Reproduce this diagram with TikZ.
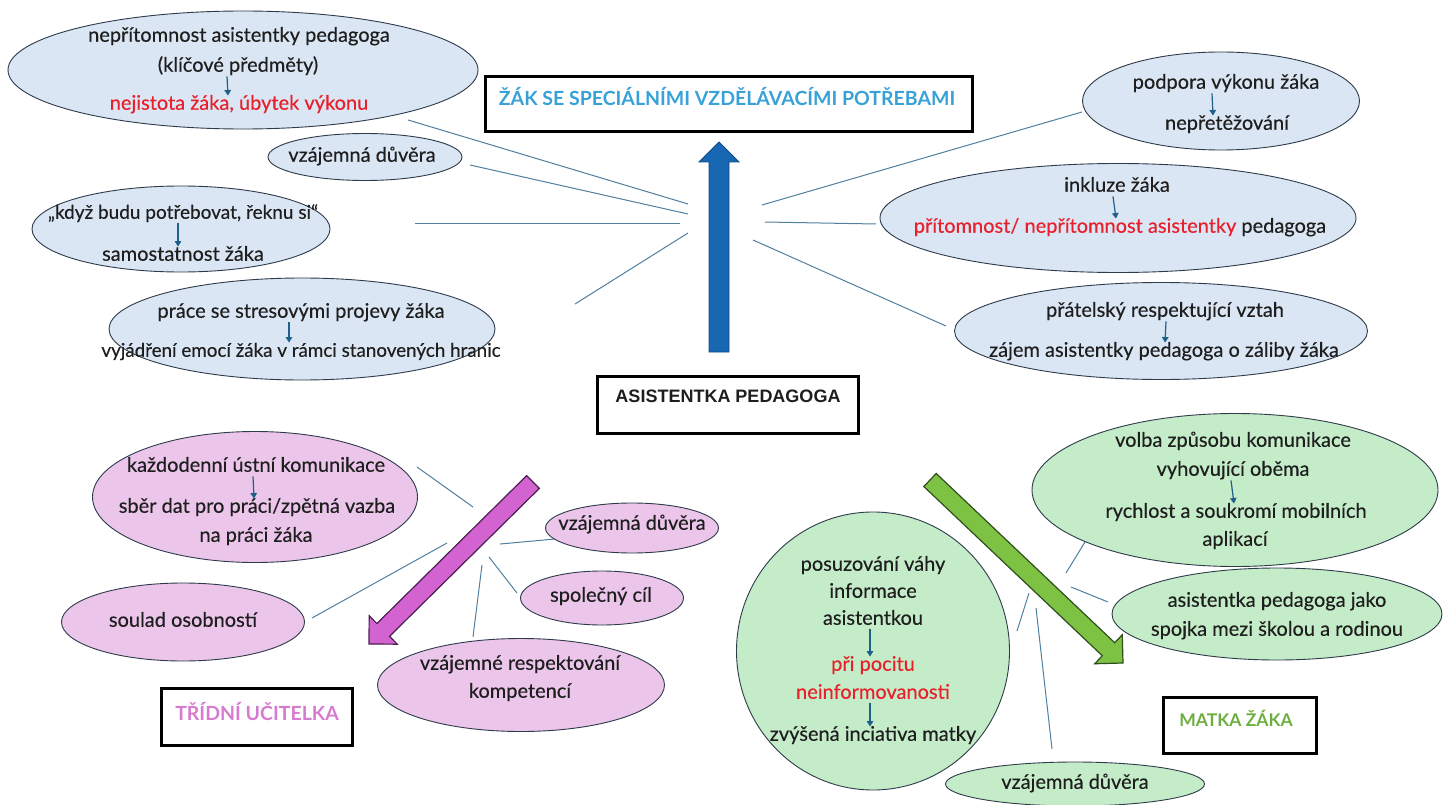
\documentclass[tikz,border=0pt]{standalone}
\usepackage{fontspec}
\setmainfont{Lato}[UprightFeatures={FakeBold=0.3}]
\newfontfamily\arialf{Liberation Sans}
\usetikzlibrary{shapes.geometric,arrows.meta,calc}
\definecolor{blueFill}{HTML}{DAE6F3}
\definecolor{pinkFill}{HTML}{EBC5EA}
\definecolor{greenFill}{HTML}{C5ECC8}
\definecolor{ellLine}{HTML}{2E3B4A}
\definecolor{connCol}{HTML}{5080A0}
\definecolor{arrCol}{HTML}{1F6089}
\definecolor{txtCol}{HTML}{1E1E1E}
\definecolor{redCol}{HTML}{E8202C}
\definecolor{titleBlue}{HTML}{38A2D8}
\definecolor{titlePink}{HTML}{D77BD0}
\definecolor{titleGreen}{HTML}{6DAF3F}
\definecolor{bigBlue}{HTML}{1767B3}
\definecolor{bigBlueLine}{HTML}{0F4C85}
\definecolor{bigPink}{HTML}{D463D2}
\definecolor{bigPinkLine}{HTML}{4A2050}
\definecolor{bigGreen}{HTML}{7DC243}
\definecolor{bigGreenLine}{HTML}{2F4F1F}
\newcommand{\blockarr}[6]{%
  \coordinate (#1B) at ($(#2)!#5!(#1)$);
  \filldraw[#6] ($(#1)!#3!90:(#2)$) -- ($(#1B)!#3!90:(#2)$) -- ($(#1B)!#4!90:(#2)$) -- (#2)
    -- ($(#1B)!#4!-90:(#2)$) -- ($(#1B)!#3!-90:(#2)$) -- ($(#1)!#3!-90:(#2)$) -- cycle;}
\tikzset{
  ell/.style={ellipse, draw=ellLine, line width=0.9pt, inner sep=0pt},
  bell/.style={ell, fill=blueFill},
  pell/.style={ell, fill=pinkFill},
  gell/.style={ell, fill=greenFill},
  txt/.style={inner sep=0pt, text height=14pt, text depth=4.5pt, font=\fontsize{20}{22}\selectfont, text=txtCol},
  redtxt/.style={txt, text=redCol},
  smallarr/.style={-{Triangle[length=5.5pt,width=6.5pt]}, draw=arrCol, line width=1.2pt},
  conn/.style={draw=connCol, line width=1pt},
  titlebox/.style={draw=black, line width=3pt, fill=white, inner sep=0pt},
  titletxt/.style={inner sep=0pt, font=\bfseries\fontsize{19.5}{22}\selectfont},
}
\begin{document}
\begin{tikzpicture}[x=1pt,y=-1pt]
\useasboundingbox (0,0) rectangle (1448,805);
\fill[white] (0,0) rectangle (1448,805);

% ---------- connectors (top hub) ----------
\coordinate (hE1) at (688,204); \coordinate (eE1) at (408,120);
\coordinate (hE2) at (688,214); \coordinate (eE2) at (470,165);
\coordinate (hE3) at (680,224); \coordinate (eE3) at (415,224);
\coordinate (hE4) at (688,233); \coordinate (eE4) at (575,304);
\coordinate (hE5) at (762,205); \coordinate (eE5) at (1082,112);
\coordinate (hE6) at (765,222); \coordinate (eE6) at (876,224);
\coordinate (hE7) at (753,240); \coordinate (eE7) at (946,326);
\foreach \i in {1,...,7} {\draw[conn] (hE\i) -- (eE\i);}

% ---------- connectors (pink hub) ----------
\coordinate (pP1) at (473,507); \coordinate (eP1) at (417,467);
\coordinate (pP2) at (500,544); \coordinate (eP2) at (555,539);
\coordinate (pP3) at (489,557); \coordinate (eP3) at (517,593);
\coordinate (pP4) at (447,543); \coordinate (eP4) at (312,618);
\coordinate (pP5) at (482,565); \coordinate (eP5) at (473,637);
\foreach \i in {1,...,5} {\draw[conn] (pP\i) -- (eP\i);}

% ---------- connectors (green hub) ----------
\coordinate (gG1) at (1066,573); \coordinate (eG1) at (1088,537);
\coordinate (gG2) at (1071,587); \coordinate (eG2) at (1108,602);
\coordinate (gG3) at (1029,593); \coordinate (eG3) at (1017,631);
\coordinate (gG4) at (1036,608); \coordinate (eG4) at (1052,749);
\foreach \i in {1,...,4} {\draw[conn] (gG\i) -- (eG\i);}

% ---------- blue ellipses ----------
\node[bell, minimum width=470pt, minimum height=118pt] (E1) at (243,70) {};
\node[txt] (E1a) at (239,37) {nepřítomnost asistentky pedagoga};
\node[txt] (E1b) at (238,67) {(klíčové předměty)};
\node[redtxt] (E1c) at (239,105) {nejistota žáka, úbytek výkonu};
\draw[smallarr] ([xshift=-11pt]E1b.south) -- ([xshift=-11pt]E1c.north);

\node[bell, minimum width=194pt, minimum height=47pt] (E2) at (365,157) {};
\node[txt] (E2a) at (362,157) {vzájemná důvěra};

\node[bell, minimum width=298pt, minimum height=86pt] (E3) at (181,229) {};
\node[txt, font=\fontsize{19}{21}\selectfont] (E3a) at (183,214) {„když budu potřebovat, řeknu si“};
\node[txt] (E3b) at (183,256) {samostatnost žáka};
\draw[smallarr] ([xshift=-5pt]E3a.south) -- ([xshift=-5pt]E3b.north);

\node[bell, minimum width=386pt, minimum height=102pt] (E4) at (302,329) {};
\node[txt] (E4a) at (301,313) {práce se stresovými projevy žáka};
\node[txt, font=\fontsize{18.8}{21}\selectfont] (E4b) at (301,352) {vyjádření emocí žáka v rámci stanovených hranic};
\draw[smallarr] ([xshift=-12pt]E4a.south) -- ([xshift=-12pt]E4b.north);

\node[bell, minimum width=277pt, minimum height=98pt] (E5) at (1221,101) {};
\node[txt] (E5a) at (1226,84) {podpora výkonu žáka};
\node[txt] (E5b) at (1227,125) {nepřetěžování};
\draw[smallarr] ([xshift=-14pt]E5a.south) -- ([xshift=-14pt]E5b.north);

\node[bell, minimum width=476pt, minimum height=109pt] (E6) at (1118,218) {};
\node[txt] (E6a) at (1117,187) {inkluze žáka};
\node[txt] (E6b) at (1120,228) {\textcolor{redCol}{přítomnost/ nepřítomnost asistentky} pedagoga};
\draw[smallarr] ([xshift=-4pt]E6a.south) -- ([xshift=-4pt]E6b.north);

\node[bell, minimum width=413pt, minimum height=97pt] (E7) at (1161,331) {};
\node[txt] (E7a) at (1165,312) {přátelský respektující vztah};
\node[txt] (E7b) at (1164,352) {zájem asistentky pedagoga o záliby žáka};
\draw[smallarr] ([xshift=1pt]E7a.south) -- ([xshift=1pt]E7b.north);

% ---------- pink ellipses ----------
\node[pell, minimum width=325pt, minimum height=131pt] (P1) at (255,497) {};
\node[txt] (P1a) at (256,467) {každodenní ústní komunikace};
\node[txt] (P1b) at (257,508) {sběr dat pro práci/zpětná vazba};
\node[txt] (P1c) at (256,537) {na práci žáka};
\draw[smallarr] ([xshift=-3pt]P1a.south) -- ([xshift=-3pt]P1b.north);

\node[pell, minimum width=173pt, minimum height=50pt] (P2) at (632,528) {};
\node[txt] (P2a) at (632,525) {vzájemná důvěra};

\node[pell, minimum width=163pt, minimum height=54pt] (P3) at (602,598) {};
\node[txt] (P3a) at (601,597) {společný cíl};

\node[pell, minimum width=243pt, minimum height=78pt] (P4) at (183,622) {};
\node[txt] (P4a) at (183,622) {soulad osobností};

\node[pell, minimum width=287pt, minimum height=93pt] (P5) at (521,685) {};
\node[txt] (P5a) at (520,665) {vzájemné respektování};
\node[txt] (P5b) at (520,693) {kompetencí};

% ---------- green ellipses ----------
\node[gell, minimum width=406pt, minimum height=153pt] (G1) at (1235,490) {};
\node[txt] (G1a) at (1233,442) {volba způsobu komunikace};
\node[txt] (G1b) at (1233,471) {vyhovující oběma};
\node[txt] (G1c) at (1236,513) {rychlost a soukromí mobilních};
\node[txt] (G1d) at (1235,541) {aplikací};
\draw[smallarr] ([xshift=-2pt]G1b.south) -- ([xshift=-2pt]G1c.north);

\node[gell, minimum width=330pt, minimum height=92pt] (G2) at (1277,614) {};
\node[txt] (G2a) at (1277,602) {asistentka pedagoga jako};
\node[txt] (G2b) at (1277,631) {spojka mezi školou a rodinou};

\node[gell, minimum width=273pt, minimum height=278pt] (G3) at (873,651) {};
\node[txt] (G3a) at (873,566) {posuzování váhy};
\node[txt] (G3b) at (873,593) {informace};
\node[txt] (G3c) at (873,620) {asistentkou};
\node[redtxt] (G3d) at (873,666) {při pocitu};
\node[redtxt] (G3e) at (873,694) {neinformovanosti};
\node[txt] (G3f) at (873,736) {zvýšená inciativa matky};
\draw[smallarr] ([xshift=-3pt]G3c.south) -- ([xshift=-3pt]G3d.north);
\draw[smallarr] ([xshift=-3pt]G3e.south) -- ([xshift=-3pt]G3f.north);

\node[gell, minimum width=259pt, minimum height=44pt] (G4) at (1075,784) {};
\node[txt] (G4a) at (1075,784) {vzájemná důvěra};

% ---------- title boxes ----------
\node[titlebox, minimum width=487pt, minimum height=55pt] (B1) at (729,104.5) {};
\node[titletxt, text=titleBlue] (B1t) at (727,97) {ŽÁK SE SPECIÁLNÍMI VZDĚLÁVACÍMI POTŘEBAMI};

\node[titlebox, minimum width=261pt, minimum height=57pt] (B2) at (728,405) {};
\node[inner sep=0pt, font=\arialf\bfseries\fontsize{18}{20}\selectfont, text=txtCol] (B2t) at (728,396) {ASISTENTKA PEDAGOGA};

\node[titlebox, minimum width=191pt, minimum height=57pt] (B3) at (257,717) {};
\node[titletxt, text=titlePink] (B3t) at (257,711) {TŘÍDNÍ UČITELKA};

\node[titlebox, minimum width=153pt, minimum height=56pt] (B4) at (1240,725.5) {};
\node[titletxt, font=\bfseries\fontsize{17.5}{20}\selectfont, text=titleGreen] (B4t) at (1236,718) {MATKA ŽÁKA};

% ---------- big arrows ----------
\coordinate (bt) at (719,352); \coordinate (bp) at (719,142);
\blockarr{bt}{bp}{10pt}{20pt}{20pt}{fill=bigBlue, draw=bigBlueLine, line width=0.8pt}
\coordinate (pt) at (533,482); \coordinate (pp) at (369,644);
\blockarr{pt}{pp}{9pt}{20pt}{20pt}{fill=bigPink, draw=bigPinkLine, line width=1.2pt}
\coordinate (gt) at (930,480); \coordinate (gp) at (1123,663);
\blockarr{gt}{gp}{9pt}{20pt}{20pt}{fill=bigGreen, draw=bigGreenLine, line width=1.2pt}
\end{tikzpicture}
\end{document}
